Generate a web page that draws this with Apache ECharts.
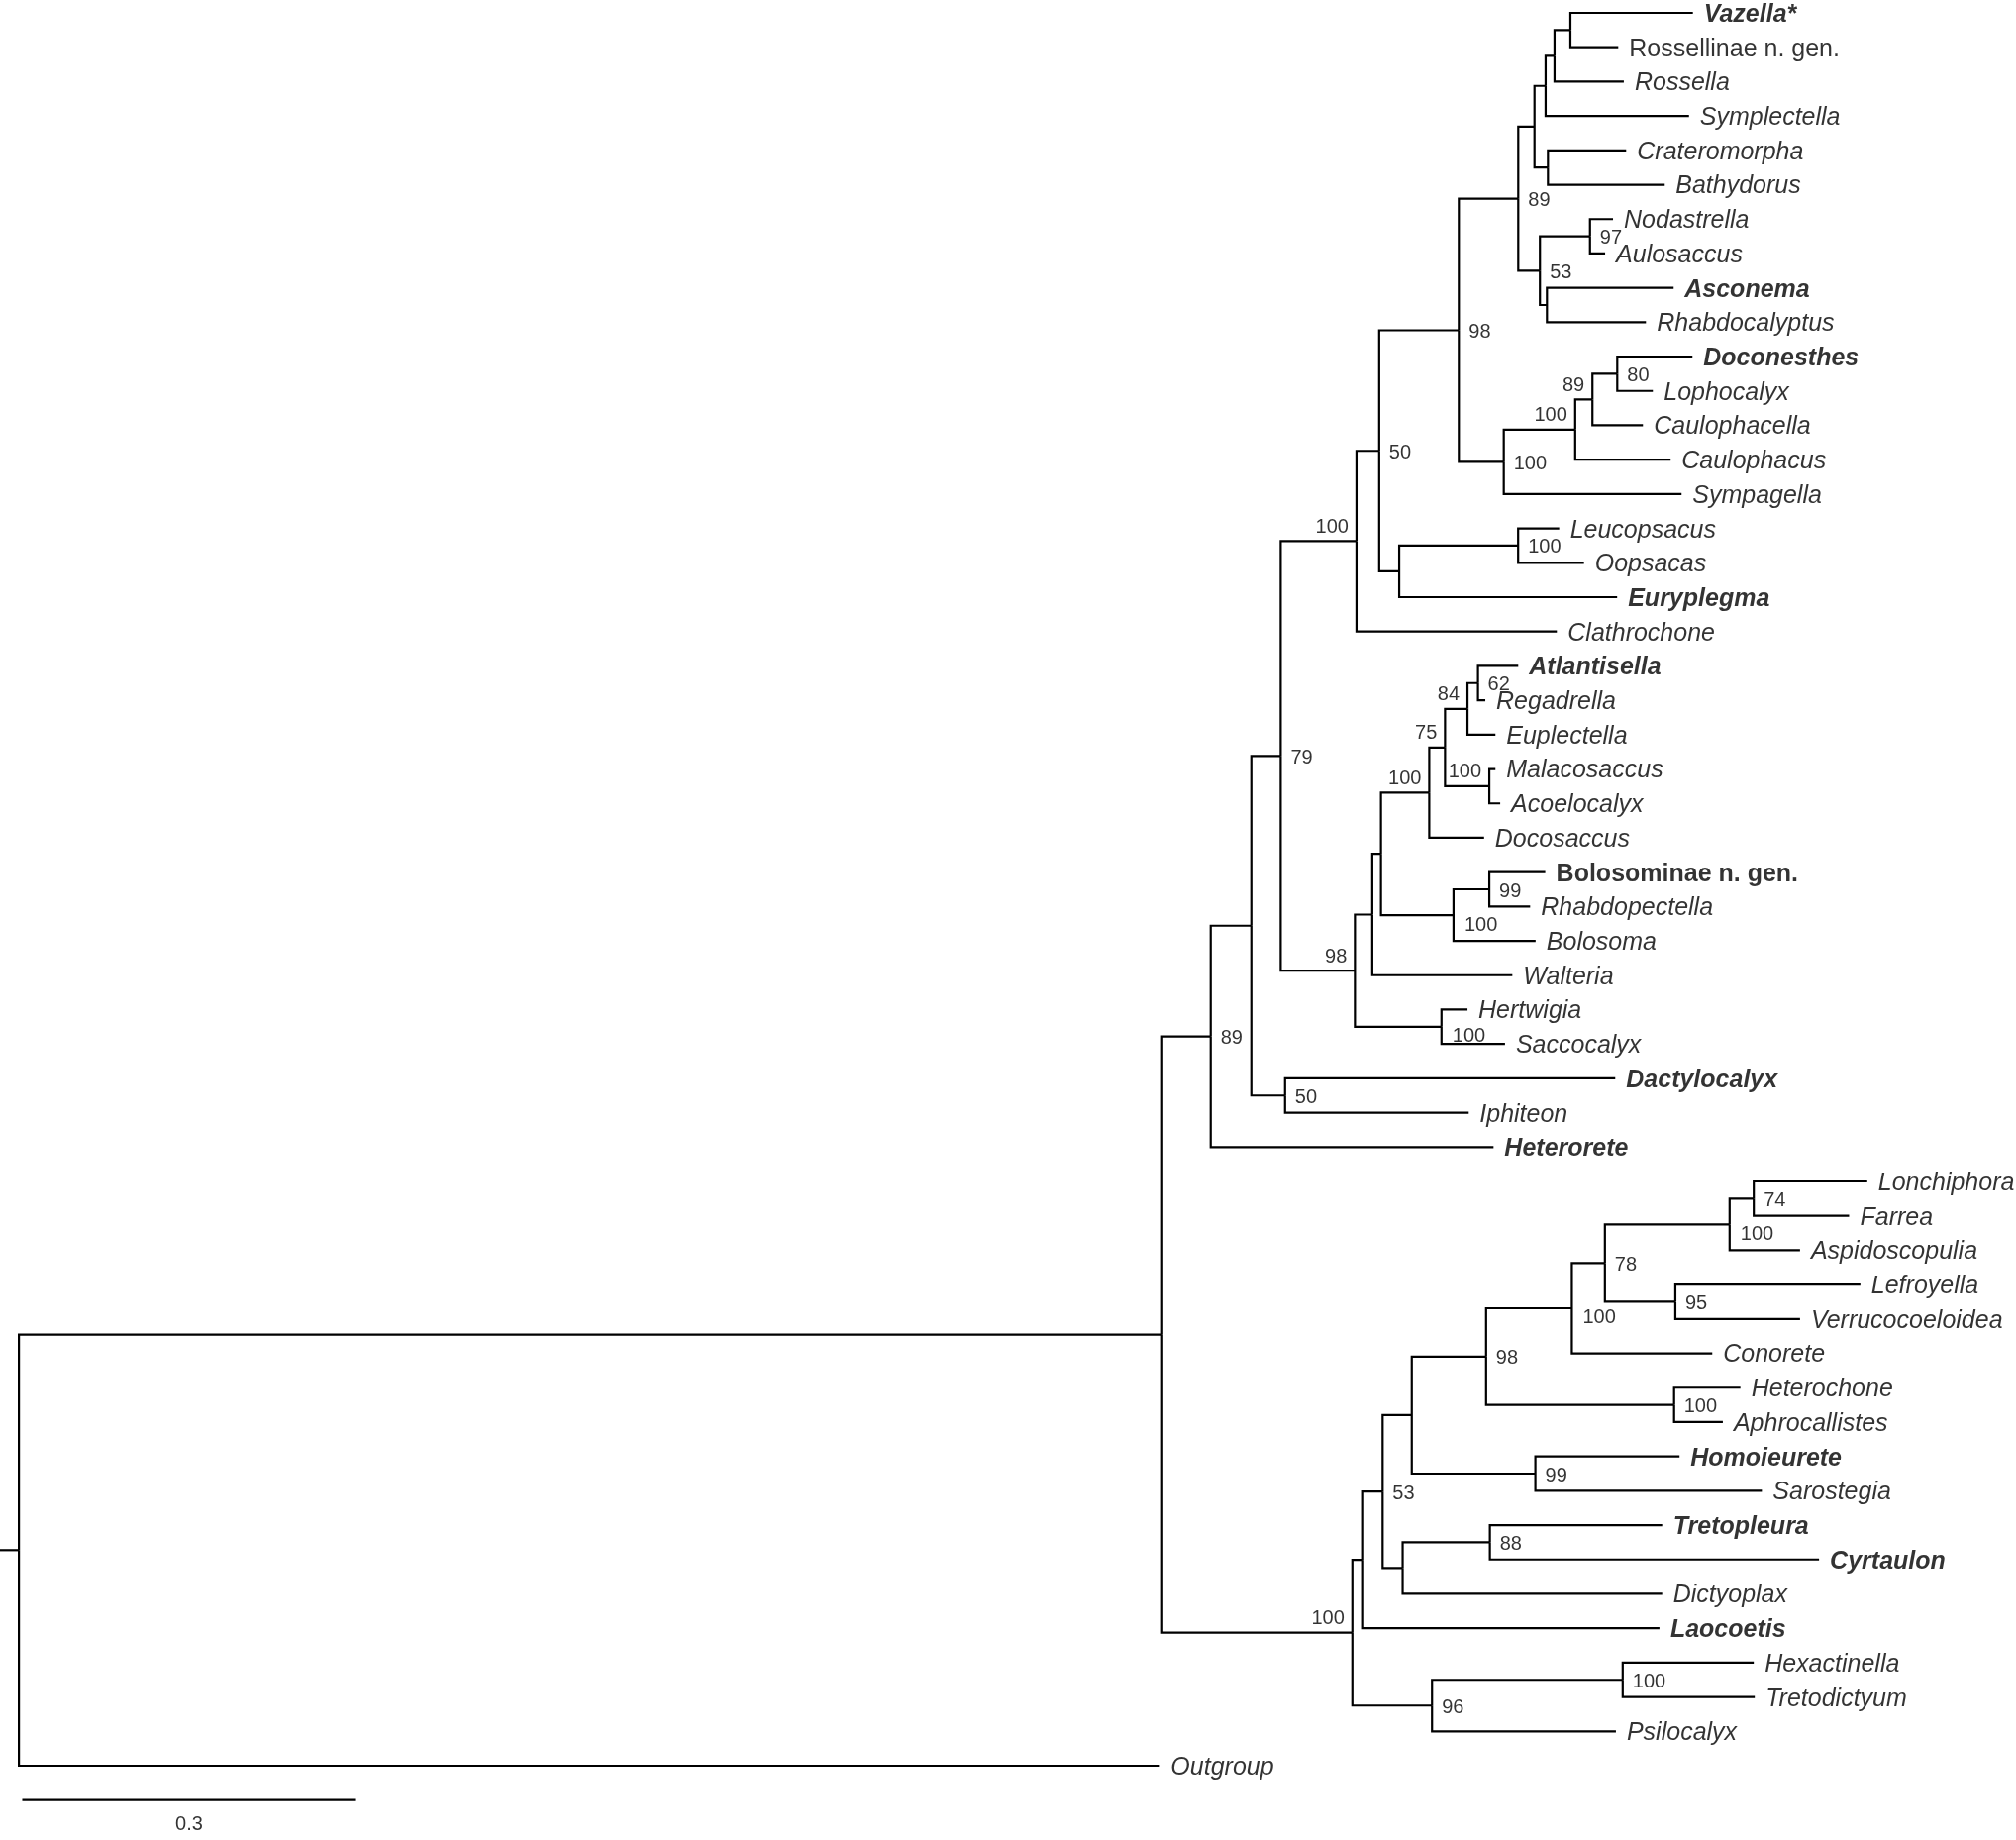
<!DOCTYPE html>
<html>
<head>
<meta charset="utf-8">
<title>Hexactinellida tree</title>
<script src="https://cdn.jsdelivr.net/npm/echarts@6/dist/echarts.min.js"></script>
<style>
  html, body { margin: 0; padding: 0; background: #fff; }
  #chart { width: 2036px; height: 1858px; }
</style>
</head>
<body>
<div id="chart"></div>
<script>
// internal nodes: id, parent, branch length, bootstrap support
const clades = [
  ["root", null, 0, ""],
  ["cc", "root", 1.0276, ""],
  ["ag", "cc", 0.0436, "89"],
  ["gg", "cc", 0.1709, "100"],
  ["ae", "ag", 0.0365, ""],
  ["s79", "ae", 0.0264, "79"],
  ["af", "ae", 0.0303, "50"],
  ["r100", "s79", 0.0681, "100"],
  ["t98", "s79", 0.0667, "98"],
  ["o50", "r100", 0.0204, "50"],
  ["j98", "o50", 0.0716, "98"],
  ["p", "o50", 0.018, ""],
  ["q", "p", 0.1069, "100"],
  ["f89", "j98", 0.0534, "89"],
  ["k100", "j98", 0.0404, "100"],
  ["e", "f89", 0.0146, ""],
  ["i53", "f89", 0.0195, "53"],
  ["c", "e", 0.01, ""],
  ["d", "e", 0.0121, ""],
  ["b", "c", 0.008, ""],
  ["a", "b", 0.0143, ""],
  ["g97", "i53", 0.045, "97"],
  ["h", "i53", 0.0063, ""],
  ["l100", "k100", 0.0642, "100"],
  ["m89", "l100", 0.0155, "89"],
  ["n80", "m89", 0.0223, "80"],
  ["u", "t98", 0.0156, ""],
  ["ad", "t98", 0.0778, "100"],
  ["v", "u", 0.0078, ""],
  ["w", "v", 0.0434, "100"],
  ["ab", "v", 0.0652, "100"],
  ["x75", "w", 0.0142, "75"],
  ["y84", "x75", 0.0202, "84"],
  ["z62", "y84", 0.0094, "62"],
  ["aa", "x75", 0.0398, "100"],
  ["ac", "ab", 0.0322, "99"],
  ["ff", "gg", 0.0097, ""],
  ["n53", "ff", 0.0175, "53"],
  ["dd", "n53", 0.0262, ""],
  ["ee", "n53", 0.018, ""],
  ["n98", "dd", 0.0668, "98"],
  ["n99", "dd", 0.1111, "99"],
  ["n100a", "n98", 0.0771, "100"],
  ["ha", "n98", 0.169, "100"],
  ["n78", "n100a", 0.0297, "78"],
  ["n100b", "n78", 0.1121, "100"],
  ["n74", "n100b", 0.0217, "74"],
  ["n95", "n78", 0.0633, "95"],
  ["n88", "ee", 0.0784, "88"],
  ["n96", "gg", 0.0716, "96"],
  ["n100c", "n96", 0.1714, "100"]
];

// leaves, top to bottom: name, parent, branch length
const leaves = [
  ["Vazella*", "a", 0.1101],
  ["Rossellinae n. gen.", "a", 0.043],
  ["Rossella", "b", 0.0623],
  ["Symplectella", "c", 0.1289],
  ["Crateromorpha", "d", 0.0703],
  ["Bathydorus", "d", 0.105],
  ["Nodastrella", "g97", 0.0207],
  ["Aulosaccus", "g97", 0.0136],
  ["Asconema", "h", 0.1139],
  ["Rhabdocalyptus", "h", 0.089],
  ["Doconesthes", "n80", 0.0676],
  ["Lophocalyx", "n80", 0.032],
  ["Caulophacella", "m89", 0.0454],
  ["Caulophacus", "l100", 0.0858],
  ["Sympagella", "k100", 0.1598],
  ["Leucopsacus", "q", 0.0369],
  ["Oopsacas", "q", 0.0592],
  ["Euryplegma", "p", 0.1959],
  ["Clathrochone", "r100", 0.1801],
  ["Atlantisella", "z62", 0.0362],
  ["Regadrella", "z62", 0.0066],
  ["Euplectella", "y84", 0.0251],
  ["Malacosaccus", "aa", 0.0055],
  ["Acoelocalyx", "aa", 0.0098],
  ["Docosaccus", "w", 0.0493],
  ["Bolosominae n. gen.", "ac", 0.0503],
  ["Rhabdopectella", "ac", 0.0367],
  ["Bolosoma", "ab", 0.0738],
  ["Walteria", "u", 0.1259],
  ["Hertwigia", "ad", 0.0234],
  ["Saccocalyx", "ad", 0.0571],
  ["Dactylocalyx", "af", 0.2968],
  ["Iphiteon", "af", 0.1651],
  ["Heterorete", "ag", 0.2542],
  ["Lonchiphora", "n74", 0.102],
  ["Farrea", "n74", 0.0857],
  ["Aspidoscopulia", "n100b", 0.0633],
  ["Lefroyella", "n95", 0.1663],
  ["Verrucocoeloidea", "n95", 0.1121],
  ["Conorete", "n100a", 0.1262],
  ["Heterochone", "ha", 0.0596],
  ["Aphrocallistes", "ha", 0.0438],
  ["Homoieurete", "n99", 0.1296],
  ["Sarostegia", "n99", 0.2036],
  ["Tretopleura", "n88", 0.1549],
  ["Cyrtaulon", "n88", 0.2959],
  ["Dictyoplax", "ee", 0.2333],
  ["Laocoetis", "ff", 0.2663],
  ["Hexactinella", "n100c", 0.1178],
  ["Tretodictyum", "n100c", 0.1187],
  ["Psilocalyx", "n96", 0.1653],
  ["Outgroup", "root", 1.0255]
];

const boldTaxa = ["Vazella*", "Asconema", "Doconesthes", "Euryplegma", "Atlantisella",
  "Bolosominae n. gen.", "Dactylocalyx", "Heterorete", "Homoieurete", "Tretopleura",
  "Cyrtaulon", "Laocoetis"];
const uprightTaxa = ["Rossellinae n. gen.", "Bolosominae n. gen."];

const rootEdge = 0.017;
const scaleBar = [0.003, 0.3];

// where support numbers sit relative to their node
const supportAboveLeft = ["gg", "r100", "t98", "l100", "m89", "w", "x75", "y84", "aa"];
const supportBelowRight = ["ab", "ad", "n100b", "n100a"];

// ---- build node table ----
const nodes = {};
clades.forEach(([id, parent, len, support]) => {
  nodes[id] = { id, parent, len, support, children: [], leaf: false };
});
leaves.forEach(([name, parent, len], i) => {
  nodes[name] = { id: name, parent, len, support: "", children: [], leaf: true, y: i };
});
Object.values(nodes).forEach(n => {
  if (n.parent) nodes[n.parent].children.push(n.id);
});

const depthOf = id => {
  const n = nodes[id];
  if (n.x !== undefined) return n.x;
  n.x = n.parent ? depthOf(n.parent) + n.len : 0;
  return n.x;
};
const yOf = id => {
  const n = nodes[id];
  if (n.y !== undefined) return n.y;
  const ys = n.children.map(yOf);
  n.y = (Math.min.apply(null, ys) + Math.max.apply(null, ys)) / 2;
  return n.y;
};
Object.keys(nodes).forEach(id => { depthOf(id); yOf(id); });

// ---- series data ----
const branchLines = [];
Object.values(nodes).forEach(n => {
  if (!n.parent) return;
  const p = nodes[n.parent];
  branchLines.push({ coords: [[p.x, p.y], [p.x, n.y], [n.x, n.y]] });
});
const root = nodes.root;
branchLines.push({ coords: [[-rootEdge, root.y], [root.x, root.y]] });
const scaleY = leaves.length;
branchLines.push({ coords: [[scaleBar[0], scaleY], [scaleBar[0] + scaleBar[1], scaleY]] });

const taxonLabels = leaves.map(([name]) => {
  const n = nodes[name];
  return {
    name,
    value: [n.x, n.y],
    label: {
      fontStyle: uprightTaxa.includes(name) ? "normal" : "italic",
      fontWeight: boldTaxa.includes(name) ? "bold" : "normal"
    }
  };
});

const supportLabels = clades.filter(c => c[3] !== "").map(([id, , , support]) => {
  const n = nodes[id];
  let label = { position: "right", distance: 10, offset: [0, 2] };
  if (supportAboveLeft.includes(id)) label = { position: "left", distance: 8, offset: [0, -14] };
  if (supportBelowRight.includes(id)) label = { position: "right", distance: 11, offset: [0, 10] };
  return { name: support, value: [n.x, n.y], label };
});

const chart = echarts.init(document.getElementById("chart"), null, { renderer: "canvas" });
chart.setOption({
  animation: false,
  backgroundColor: "#ffffff",
  grid: { left: 0, right: 0, top: 13, bottom: 75 },
  xAxis: { type: "value", min: -rootEdge, max: 1.795, show: false },
  yAxis: { type: "value", min: 0, max: leaves.length - 1, inverse: true, show: false },
  series: [
    {
      type: "lines",
      coordinateSystem: "cartesian2d",
      polyline: true,
      silent: true,
      clip: false,
      lineStyle: { color: "#000", width: 2.2, opacity: 1, join: "miter", cap: "butt" },
      data: branchLines
    },
    {
      type: "scatter",
      silent: true,
      clip: false,
      symbolSize: 0,
      itemStyle: { color: "transparent" },
      label: {
        show: true,
        position: "right",
        distance: 11,
        offset: [0, 2],
        formatter: "{b}",
        color: "#000",
        fontSize: 25,
        fontFamily: "Liberation Sans"
      },
      data: taxonLabels
    },
    {
      type: "scatter",
      silent: true,
      clip: false,
      symbolSize: 0,
      itemStyle: { color: "transparent" },
      label: {
        show: true,
        formatter: "{b}",
        color: "#000",
        fontSize: 20,
        fontFamily: "Liberation Sans"
      },
      data: supportLabels
    },
    {
      type: "scatter",
      silent: true,
      clip: false,
      symbolSize: 0,
      itemStyle: { color: "transparent" },
      label: {
        show: true,
        position: "inside",
        formatter: "{b}",
        color: "#000",
        fontSize: 20,
        fontFamily: "Liberation Sans"
      },
      data: [{ name: String(scaleBar[1]), value: [scaleBar[0] + scaleBar[1] / 2, scaleY + 0.72] }]
    }
  ]
});
</script>
</body>
</html>
